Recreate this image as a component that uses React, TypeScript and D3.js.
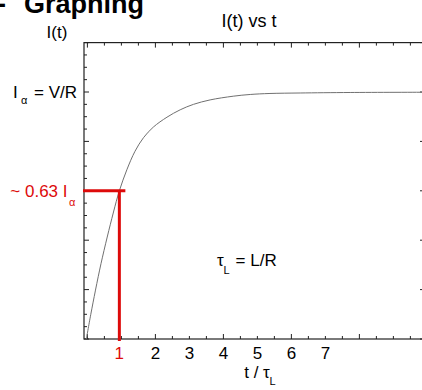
import * as d3 from "d3";

// readings of the charging curve, t in units of tau_L, I in units of I_alpha
const curveT = [-0.03, 0.1, 0.4, 0.76, 0.94, 1.16, 1.4, 1.65, 1.94, 2.34, 2.73, 3.12, 3.61, 4.29, 4.79, 5.37, 6.26, 7.73, 9.93];
const curveI = [0, 0.1, 0.305, 0.51, 0.6, 0.685, 0.76, 0.815, 0.858, 0.898, 0.928, 0.95, 0.968, 0.983, 0.99, 0.994, 0.996, 0.998, 0.999];
const xTickLabels = [1, 2, 3, 4, 5, 6, 7];
const markerT = 0.94;
const markerI = 0.6;
const asymptoteI = 1;

const width = 422;
const height = 390;
const font = "'Liberation Sans', Arial, Helvetica, sans-serif";
const red = "#dd0a0a";
const axisColor = "#222";

const App = () => {
    const xScale = d3.scaleLinear().domain([-0.1, 9.93]).range([84, 425]);
    const yScale = d3.scaleLinear().domain([0, 1.2]).range([339, 42.6]);
    const [x0, x1] = xScale.range();
    const [y0, y1] = yScale.range();

    const points = curveT.map((t, i) => [t, curveI[i]]);
    const lineGenerator = d3
        .line()
        .x((d) => xScale(d[0]))
        .y((d) => yScale(d[1]))
        .curve(d3.curveCatmullRom);

    const xMinor = d3.range(0, 10, 0.5);
    const yMinor = d3.range(0, 1.2001, 0.05);
    const isMajorX = (t) => Math.abs(t / 2 - Math.round(t / 2)) < 1e-6;
    const isMajorY = (v) => Math.abs(v / 0.2 - Math.round(v / 0.2)) < 1e-6;

    const mx = xScale(markerT);
    const my = yScale(markerI);
    const ya = yScale(asymptoteI);

    return (
        <svg width={width} height={height} style={{ position: "absolute", left: 0, top: 0 }} fontFamily={font}>
            <rect width={width} height={height} fill="#fff" />
            <text x={-3} y={13} fontSize={27} fontWeight="bold" fill="#000">-</text>
            <text x={24} y={13} fontSize={27} fontWeight="bold" fill="#000">Graphing</text>

            <text x={249} y={27} fontSize={18} textAnchor="middle">I(t) vs t</text>
            <text x={57} y={38} fontSize={17} textAnchor="middle">I(t)</text>

            {/* ticks */}
            <g stroke={axisColor} strokeWidth={1}>
                {xMinor.map((t) => {
                    const x = xScale(t);
                    const len = isMajorX(t) ? 5 : 3;
                    return (
                        <g key={`xt-${t}`}>
                            <line x1={x} x2={x} y1={y0} y2={y0 - len} />
                            <line x1={x} x2={x} y1={y1} y2={y1 + len} />
                        </g>
                    );
                })}
                {yMinor.map((v) => {
                    const y = yScale(v);
                    const len = isMajorY(v) ? 5 : 3;
                    return (
                        <g key={`yt-${v.toFixed(2)}`}>
                            <line x1={x0} x2={x0 + len} y1={y} y2={y} />
                            <line x1={x1} x2={x1 - len} y1={y} y2={y} />
                        </g>
                    );
                })}
            </g>

            {/* frame */}
            <rect x={x0} y={y1} width={x1 - x0} height={y0 - y1} fill="none" stroke={axisColor} strokeWidth={1.2} />

            <path d={lineGenerator(points)} fill="none" stroke="#707070" strokeWidth={1} />

            {/* 63% marker */}
            <line x1={x0 - 1} x2={mx + 6} y1={my} y2={my} stroke={red} strokeWidth={3} />
            <line x1={mx} x2={mx} y1={my} y2={y0 + 2} stroke={red} strokeWidth={3} />

            {xTickLabels.map((k) => (
                <text
                    key={`xl-${k}`}
                    x={k === 1 ? mx : xScale(k)}
                    y={359}
                    fontSize={17}
                    textAnchor="middle"
                    fill={k === 1 ? red : "#000"}
                >
                    {k}
                </text>
            ))}

            <text x={257} y={378} fontSize={17} textAnchor="middle">t / τ</text>
            <text x={269.5} y={385} fontSize={11}>L</text>

            <text x={13} y={ya + 5.5} fontSize={17}>I</text>
            <text x={21} y={ya + 12} fontSize={11}>α</text>
            <text x={77} y={ya + 5.5} fontSize={17} textAnchor="end">= V/R</text>

            <text x={67.5} y={my + 6.5} fontSize={17} textAnchor="end" fill={red}>~ 0.63 I</text>
            <text x={69} y={my + 15} fontSize={11} fill={red}>α</text>

            <text x={217} y={265.7} fontSize={17}>τ</text>
            <text x={223.5} y={274} fontSize={11}>L</text>
            <text x={276.7} y={265.7} fontSize={17} textAnchor="end">= L/R</text>
        </svg>
    );
};

export default App;
